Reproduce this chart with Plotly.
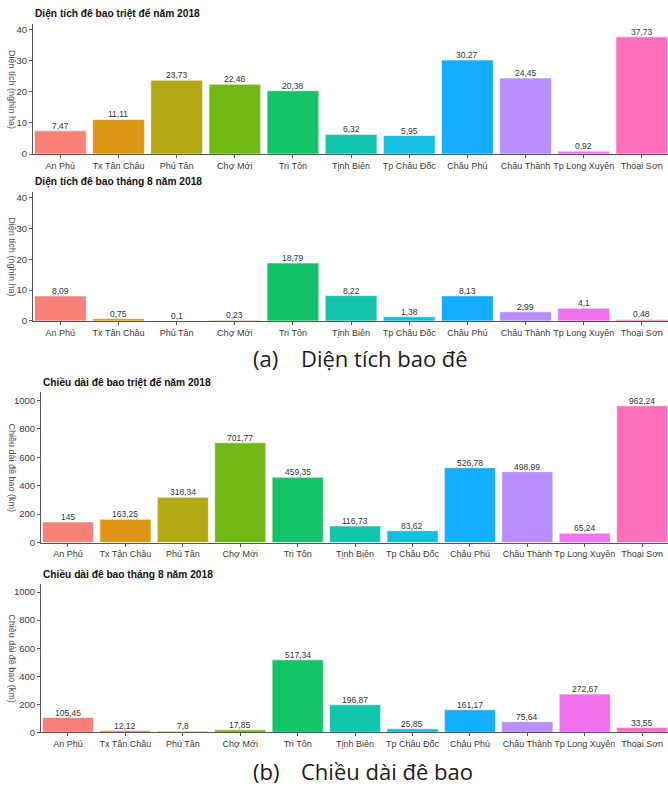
import plotly.graph_objects as go

# Districts of An Giang province
districts = ["An Phú", "Tx Tân Châu", "Phú Tân", "Chợ Mới", "Tri Tôn", "Tịnh Biên",
             "Tp Châu Đốc", "Châu Phú", "Châu Thành", "Tp Long Xuyên", "Thoại Sơn"]

# Dyke-protected area (thousand ha)
area_full_2018 = [7.47, 11.11, 23.73, 22.46, 20.38, 6.32, 5.95, 30.27, 24.45, 0.92, 37.73]
area_aug_2018 = [8.09, 0.75, 0.1, 0.23, 18.79, 8.22, 1.38, 8.13, 2.99, 4.1, 0.48]

# Dyke length (km)
length_full_2018 = [145, 163.25, 318.34, 701.77, 459.35, 116.73, 83.62, 526.78, 498.99, 65.24, 962.24]
length_aug_2018 = [105.45, 12.12, 7.8, 17.85, 517.34, 196.87, 25.85, 161.17, 75.64, 272.67, 33.55]

colors = ["#F8766D", "#DB8E00", "#AEA200", "#64B200", "#00BD5C", "#00C1A7",
          "#00BADE", "#00A6FF", "#B385FF", "#EF67EB", "#FF63B6"]

W, H = 668, 786
FONT = "Liberation Sans, Arial, sans-serif"
CAP_FONT = "Open Sans, Noto Sans, sans-serif"

# (values, title, y-axis title, left px, top px, bottom px, y max, y ticks)
panels = [
    (area_full_2018, "Diện tích đê bao triệt để năm 2018", "Diện tích (nghìn ha)",
     33, 24, 155, 41.9, [0, 10, 20, 30, 40]),
    (area_aug_2018, "Diện tích đê bao tháng 8 năm 2018", "Diện tích (nghìn ha)",
     33, 193, 323, 41.9, [0, 10, 20, 30, 40]),
    (length_full_2018, "Chiều dài đê bao triệt để năm 2018", "Chiều dài đê bao (km)",
     41, 395, 546, 1056, [0, 200, 400, 600, 800, 1000]),
    (length_aug_2018, "Chiều dài đê bao tháng 8 năm 2018", "Chiều dài đê bao (km)",
     41, 588, 737, 1056, [0, 200, 400, 600, 800, 1000]),
]


def fmt(v):
    return f"{v:g}".replace(".", ",")


fig = go.Figure()
annotations = []
layout = {}
for i, (vals, title, ytitle, left, top, bottom, ymax, yticks) in enumerate(panels, start=1):
    xa = "x" if i == 1 else f"x{i}"
    ya = "y" if i == 1 else f"y{i}"
    fig.add_trace(go.Bar(
        x=districts, y=vals, xaxis=xa, yaxis=ya,
        marker=dict(color=colors, opacity=0.92, line=dict(color="rgba(255,255,255,0.6)", width=1)),
        width=0.89, showlegend=False, hoverinfo="x+y",
    ))
    # value labels sitting right on top of each bar
    for d, v in zip(districts, vals):
        annotations.append(dict(
            text=fmt(v), x=d, y=v, xref=xa, yref=ya, xanchor="center", yanchor="bottom",
            yshift=-2, showarrow=False, font=dict(family=FONT, size=8.5, color="#333333"),
        ))
    dom_x = [left / W, 1.0]
    dom_y = [1 - bottom / H, 1 - top / H]
    layout["xaxis" if i == 1 else f"xaxis{i}"] = dict(
        domain=dom_x, anchor=ya, range=[-0.47, 10.45], showline=True, linecolor="#555555",
        linewidth=1, ticks="outside", ticklen=3, tickcolor="#555555", tickangle=0,
        tickfont=dict(family=FONT, size=9, color="#3a3a3a"), showgrid=False, zeroline=False,
    )
    layout["yaxis" if i == 1 else f"yaxis{i}"] = dict(
        domain=dom_y, anchor=xa, range=[0, ymax], tickvals=yticks, showline=True,
        linecolor="#555555", linewidth=1, ticks="outside", ticklen=3, tickcolor="#555555",
        tickfont=dict(family=FONT, size=9.5, color="#3a3a3a"), showgrid=False, zeroline=False,
    )
    annotations.append(dict(
        text=f"<b>{title}</b>", x=left / W, y=1 - (top - 10) / H, xref="paper", yref="paper",
        xanchor="left", yanchor="middle", showarrow=False,
        font=dict(family=FONT, size=10.2, color="#111111"),
    ))
    annotations.append(dict(
        text=ytitle, x=12 / W, y=1 - (top + bottom) / 2 / H, xref="paper", yref="paper",
        xanchor="center", yanchor="middle", textangle=90, showarrow=False,
        font=dict(family=FONT, size=9, color="#4d4d4d"),
    ))

# Sub-figure captions
for label, text, py in [("(a)", "Diện tích bao đê", 360), ("(b)", "Chiều dài đê bao", 776)]:
    annotations.append(dict(text=label, x=251 / W, y=1 - py / H, xref="paper", yref="paper",
                            xanchor="left", yanchor="middle", showarrow=False,
                            font=dict(family=CAP_FONT, size=22, color="#1a1a1a")))
    annotations.append(dict(text=text, x=299 / W, y=1 - py / H, xref="paper", yref="paper",
                            xanchor="left", yanchor="middle", showarrow=False,
                            font=dict(family=CAP_FONT, size=22, color="#1a1a1a")))

fig.update_layout(
    width=W, height=H, autosize=False, margin=dict(l=0, r=0, t=0, b=0),
    paper_bgcolor="white", plot_bgcolor="white", annotations=annotations,
    font=dict(family=FONT), **layout,
)

fig.write_html("out.html")
